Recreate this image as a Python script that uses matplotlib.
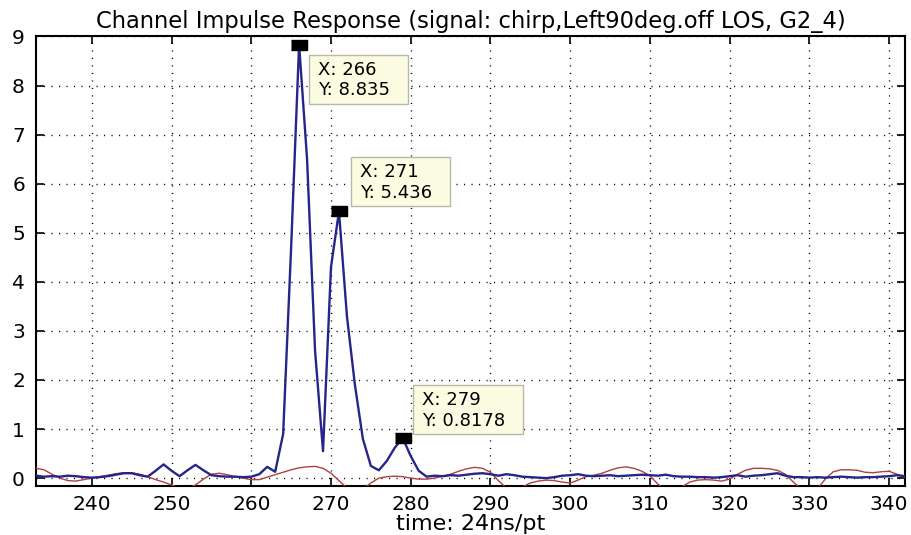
import numpy as np
import matplotlib
matplotlib.use("Agg")
import matplotlib.pyplot as plt
from matplotlib.patches import Rectangle

plt.rcParams["font.family"] = "DejaVu Sans"

# sample index (24 ns per point)
t = np.arange(233, 343)

# channel impulse response magnitude (blue)
cir = [0.05, 0.03, 0.04, 0.03, 0.05, 0.04, 0.02, 0.01, 0.02, 0.04,
       0.07, 0.10, 0.10, 0.06, 0.03, 0.15, 0.28, 0.15, 0.04, 0.16,
       0.27, 0.16, 0.06, 0.04, 0.03, 0.03, 0.02, 0.03, 0.08, 0.23,
       0.13, 0.90, 4.70, 8.835, 6.50, 2.60, 0.55, 4.30, 5.436, 3.30,
       1.90, 0.80, 0.25, 0.16, 0.35, 0.62, 0.8178, 0.45, 0.15, 0.03,
       0.05, 0.04, 0.06, 0.05, 0.07, 0.09, 0.10, 0.08, 0.05, 0.08,
       0.06, 0.03, 0.02, 0.01, 0.00, 0.02, 0.05, 0.06, 0.08, 0.05,
       0.04, 0.05, 0.06, 0.04, 0.05, 0.06, 0.07, 0.06, 0.05, 0.07,
       0.04, 0.03, 0.03, 0.02, 0.02, 0.01, 0.02, 0.04, 0.06, 0.03,
       0.05, 0.06, 0.08, 0.10, 0.05, 0.02, 0.02, 0.01, 0.02, 0.01,
       0.02, 0.03, 0.02, 0.01, 0.02, 0.02, 0.03, 0.04, 0.06, 0.04]

# reference / noise trace (red)
ref = [0.20, 0.17, 0.08, 0.00, -0.05, -0.06, -0.03, 0.00, 0.03, 0.06,
       0.09, 0.11, 0.11, 0.08, 0.03, -0.03, -0.08, -0.14, -0.20, -0.20,
       -0.14, -0.02, 0.08, 0.10, 0.07, 0.03, 0.00, -0.03, -0.03, 0.02,
       0.07, 0.12, 0.17, 0.21, 0.23, 0.24, 0.20, 0.10, -0.05, -0.20,
       -0.30, -0.22, -0.10, 0.00, 0.03, 0.04, 0.03, 0.00, -0.02, -0.02,
       0.00, 0.04, 0.08, 0.14, 0.19, 0.22, 0.20, 0.12, -0.05, -0.20,
       -0.25, -0.18, -0.10, -0.06, -0.04, -0.05, -0.08, -0.10, -0.04, 0.03,
       0.06, 0.10, 0.16, 0.21, 0.23, 0.20, 0.14, 0.05, -0.12, -0.25,
       -0.28, -0.18, -0.08, -0.04, -0.03, -0.04, -0.06, -0.02, 0.08, 0.16,
       0.20, 0.20, 0.19, 0.16, 0.08, -0.08, -0.22, -0.28, -0.22, -0.02,
       0.13, 0.17, 0.17, 0.16, 0.12, 0.11, 0.13, 0.14, 0.08, 0.02]

# data tips: x, y, offset of the text from the point (pixels)
tip_x = [266, 271, 279]
tip_y = [8.835, 5.436, 0.8178]
tip_off = [(19, -16), (21, 48), (19, 47)]

fig = plt.figure(figsize=(9.12, 5.35), dpi=100)
ax = fig.add_axes([0.0395, 0.0916, 0.9528, 0.8402])

ax.plot(t, ref, color="#b04040", lw=1.0, zorder=3)
ax.plot(t, cir, color="#25258a", lw=1.7, zorder=4)

ax.set_xlim(233, 342)
ax.set_ylim(-0.16, 9)
ax.set_xticks(np.arange(240, 341, 10))
ax.set_yticks(np.arange(0, 10, 1))

ax.grid(True, color="black", linestyle=(0, (0.8, 4.6)), linewidth=1.0)
ax.tick_params(direction="in", top=True, right=True, length=6, width=1.2,
               labelsize=14.5)
ax.tick_params(axis="x", pad=6.5)
ax.tick_params(axis="y", pad=8)
for s in ax.spines.values():
    s.set_linewidth(1.5)

ax.set_title("Channel Impulse Response (signal: chirp,Left90deg.off LOS, G2_4)",
             fontsize=16.3, pad=6)
ax.set_xlabel("time: 24ns/pt", fontsize=16, labelpad=0)

rect = [(-1, -0.62), (1, -0.62), (1, 0.62), (-1, 0.62)]
tips = []
for x, y, off in zip(tip_x, tip_y, tip_off):
    ax.plot([x], [y], marker=rect, markersize=11.5, color="black", zorder=6,
            linestyle="none")
    txt = ax.annotate("X: %d\nY: %s" % (x, repr(y)), xy=(x, y), xytext=off,
                      textcoords="offset pixels", ha="left", va="top",
                      fontsize=13, linespacing=1.2, zorder=8)
    tips.append(txt)

# datatip boxes, wider than the text like the MATLAB ones
fig.canvas.draw()
inv = ax.transData.inverted()
for txt in tips:
    bb = txt.get_window_extent()
    x0, y1 = bb.x0 - 9, bb.y1 + 6
    x1, y0 = bb.x1 + 18, y1 - 49
    (dx0, dy0), (dx1, dy1) = inv.transform([(x0, y0), (x1, y1)])
    ax.add_patch(Rectangle((dx0, dy0), dx1 - dx0, dy1 - dy0, fc="#fcfce2",
                           ec="#b8b8a8", lw=1.0, zorder=7, clip_on=False))

fig.savefig("out.png", dpi=100, facecolor="white")
